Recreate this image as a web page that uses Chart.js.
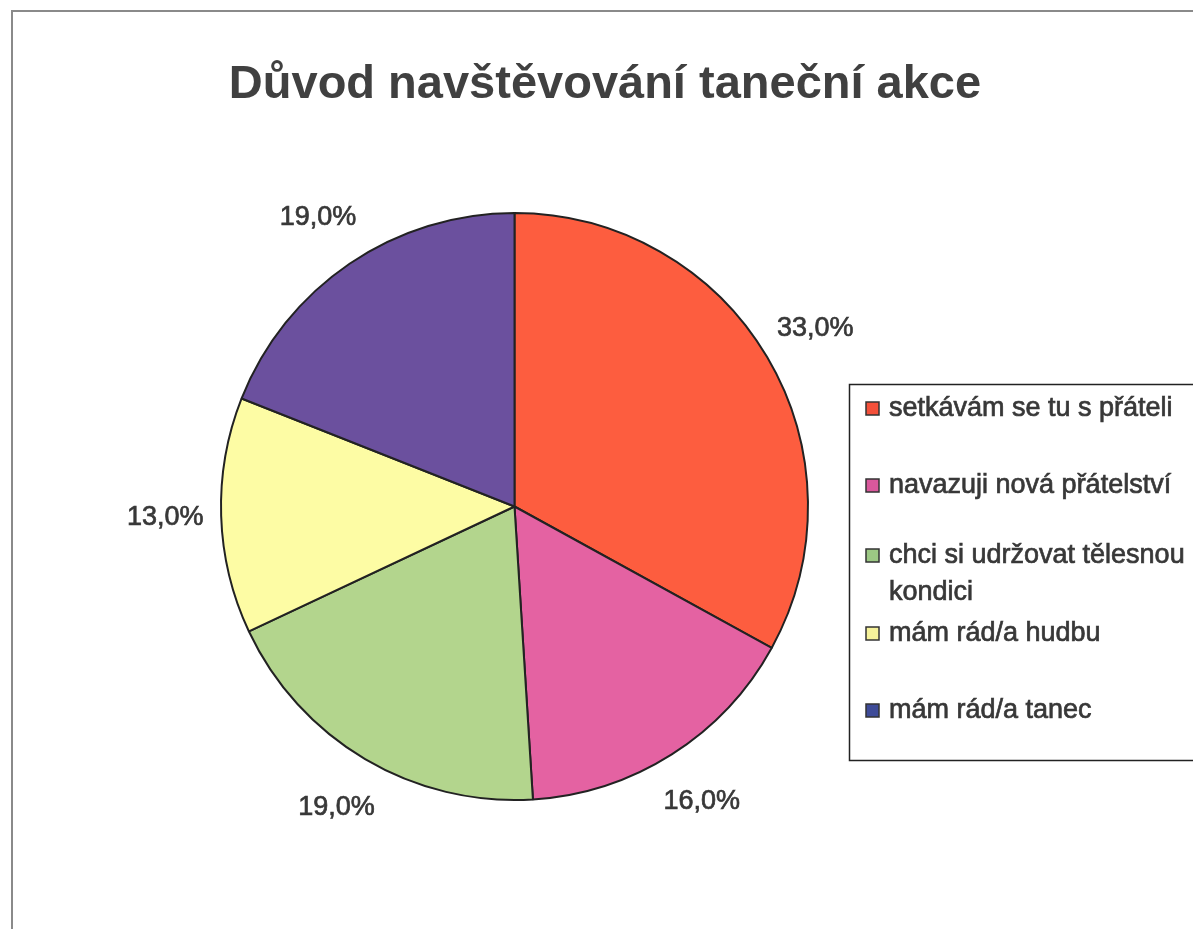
<!DOCTYPE html>
<html>
<head>
<meta charset="utf-8">
<title>Důvod navštěvování taneční akce</title>
<script src="https://cdn.jsdelivr.net/npm/chart.js@4/dist/chart.umd.min.js"></script>
<style>
  html, body { margin: 0; padding: 0; background: #fff; }
  #wrap { width: 1193px; height: 929px; position: relative; }
</style>
</head>
<body>
<div id="wrap"><canvas id="pie" width="1193" height="929"></canvas></div>
<script>
// survey answers, percent of respondents
const chartTitle = 'Důvod navštěvování taneční akce';
const reasons = [
  'setkávám se tu s přáteli',
  'navazuji nová přátelství',
  ['chci si udržovat tělesnou', 'kondici'],
  'mám rád/a hudbu',
  'mám rád/a tanec'
];
const shares = [33.0, 16.0, 19.0, 13.0, 19.0];
const sliceColors = ['#fd5d3f', '#e462a2', '#b3d58d', '#fdfca4', '#6b509e'];
const keyColors = ['#f4503a', '#d9589c', '#9cc884', '#f6f29a', '#3e4b98'];

const FONT = '"Liberation Sans", Arial, sans-serif';
const INK = '#383838';

// filled text with a thin outline so it reads a bit heavier
function heavyText(ctx, txt, x, y) {
  ctx.fillText(txt, x, y);
  ctx.strokeText(txt, x, y);
}

const decorations = {
  id: 'decorations',
  beforeDraw(chart) {
    const ctx = chart.ctx;
    ctx.save();
    ctx.fillStyle = '#fff';
    ctx.fillRect(0, 0, chart.width, chart.height);
    // outer frame (left and top edges visible)
    ctx.strokeStyle = '#8a8a8a';
    ctx.lineWidth = 2;
    ctx.beginPath();
    ctx.moveTo(12, chart.height);
    ctx.lineTo(12, 11);
    ctx.lineTo(chart.width, 11);
    ctx.stroke();
    // title
    ctx.fillStyle = '#404040';
    ctx.font = 'bold 47px ' + FONT;
    ctx.textAlign = 'center';
    ctx.textBaseline = 'alphabetic';
    ctx.fillText(chartTitle, 605, 98);
    ctx.restore();
  },
  afterDraw(chart) {
    const ctx = chart.ctx;
    const meta = chart.getDatasetMeta(0);
    ctx.save();
    ctx.fillStyle = INK;
    ctx.strokeStyle = INK;
    ctx.lineWidth = 0.7;
    // percentage labels outside each slice
    ctx.font = '27px ' + FONT;
    ctx.textAlign = 'center';
    ctx.textBaseline = 'middle';
    meta.data.forEach((arc, i) => {
      const mid = (arc.startAngle + arc.endAngle) / 2;
      const d = arc.outerRadius + 56;
      const txt = shares[i].toFixed(1).replace('.', ',') + '%';
      heavyText(ctx, txt, arc.x + Math.cos(mid) * d, arc.y + Math.sin(mid) * d);
    });

    // legend box
    ctx.strokeStyle = '#222';
    ctx.lineWidth = 1.5;
    ctx.strokeRect(849.5, 384.5, 400, 376);
    const rowY = [408, 485, 555, 633, 710];
    ctx.textAlign = 'left';
    reasons.forEach((name, i) => {
      const y = rowY[i];
      ctx.fillStyle = keyColors[i];
      ctx.fillRect(866, y - 6, 13, 13);
      ctx.strokeStyle = '#333';
      ctx.lineWidth = 1.5;
      ctx.strokeRect(866, y - 6, 13, 13);
      ctx.fillStyle = INK;
      ctx.strokeStyle = INK;
      ctx.lineWidth = 0.7;
      const lines = Array.isArray(name) ? name : [name];
      lines.forEach((ln, j) => heavyText(ctx, ln, 889, y + 1 + j * 37));
    });
    ctx.restore();
  }
};

new Chart(document.getElementById('pie'), {
  type: 'pie',
  data: {
    labels: reasons,
    datasets: [{
      data: shares,
      backgroundColor: sliceColors,
      borderColor: '#222',
      borderWidth: 2
    }]
  },
  options: {
    responsive: false,
    animation: false,
    layout: { padding: { left: 220, right: 384, top: 212, bottom: 128 } },
    plugins: {
      legend: { display: false },
      title: { display: false },
      tooltip: { enabled: false }
    }
  },
  plugins: [decorations]
});
</script>
</body>
</html>
